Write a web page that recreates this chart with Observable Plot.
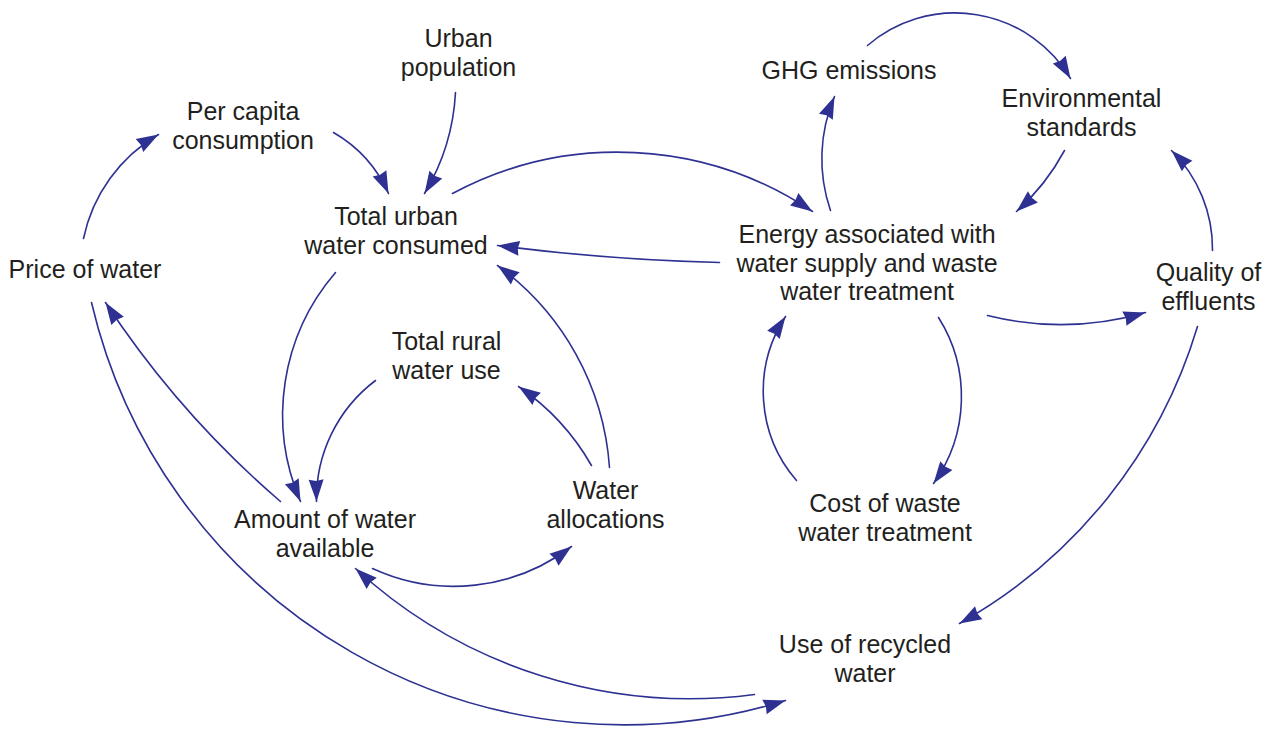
<!DOCTYPE html>
<html>
<head>
<meta charset="utf-8">
<script src="https://cdn.jsdelivr.net/npm/d3@7"></script>
<script src="https://cdn.jsdelivr.net/npm/@observablehq/plot@0.6"></script>
<style>
  html, body { margin: 0; padding: 0; background: #ffffff; }
  #chart svg { display: block; }
</style>
</head>
<body>
<div id="chart"></div>
<script>
// ---- Nodes (variables of the causal loop diagram) ----
const nodeLabels = [
  "Urban\npopulation",
  "Per capita\nconsumption",
  "Total urban\nwater consumed",
  "Price of water",
  "Total rural\nwater use",
  "Amount of water\navailable",
  "Water\nallocations",
  "GHG emissions",
  "Environmental\nstandards",
  "Energy associated with\nwater supply and waste\nwater treatment",
  "Quality of\neffluents",
  "Cost of waste\nwater treatment",
  "Use of recycled\nwater"
];
const nodeX = [458, 242.5, 395.5, 84.5, 446, 324.5, 605, 848.5, 1081, 866.5, 1208, 884.5, 864.5];
const nodeY = [52, 125, 230, 268, 355, 533, 504, 69, 112, 262, 286, 517, 658];

// ---- Causal links (tail point -> arrow tip, with bend angle in degrees) ----
const linkFrom = ["Price of water","Per capita","Urban population","Total urban","Energy","Total urban","Total rural","Amount","Price of water","Use of recycled","Amount","Water allocations","Water allocations","Energy","GHG emissions","Environmental standards","Quality of effluents","Energy","Energy","Cost of waste","Quality of effluents"];
const linkTo   = ["Per capita","Total urban","Total urban","Energy","Total urban","Amount","Amount","Price of water","Use of recycled","Amount","Water allocations","Total rural","Total urban","GHG emissions","Environmental standards","Energy","Environmental standards","Quality of effluents","Cost of waste","Energy","Use of recycled"];
const linkTailX = [83, 333, 455, 452, 719, 335, 375, 280, 91, 754, 372, 591, 609, 830, 867, 1064, 1212, 987, 938, 796, 1197];
const linkTailY = [238, 132, 92, 193, 262, 272, 380, 501, 302, 694, 568, 465, 467, 210, 45, 150, 250, 315, 317, 480, 326];
const linkTipX  = [158, 388, 424, 812, 497, 300, 316, 105, 785, 355, 571, 518, 497, 834, 1070, 1016, 1171, 1145, 933, 785, 959];
const linkTipY  = [134, 193, 193, 211, 245, 501, 501, 302, 700, 568, 546, 386, 265, 96, 78, 211, 150, 312, 483, 316, 623];
const linkBend  = [24, 18, 14, 31, 3, -32, -27, 8, -47, 25, -31, -13, -25, 21, 50, 10, -23, -15, 34, 37, 22];

const nodes = nodeLabels.map((label, i) => ({label, x: nodeX[i], y: nodeY[i]}));
const links = linkTailX.map((x1, i) => {
  const d = {from: linkFrom[i], to: linkTo[i], x1, y1: linkTailY[i], x2: linkTipX[i], y2: linkTipY[i], bend: linkBend[i]};
  // direction of the arc as it arrives at the tip (chord angle + bend), rotated so the symbol's tip leads
  d.angle = Math.atan2(d.y2 - d.y1, d.x2 - d.x1) * 180 / Math.PI + d.bend + 90;
  return d;
});

const BLUE = "#2e3192";
const INK = "#231f20";
const FONT = "'Liberation Sans', Arial, Helvetica, sans-serif";

// filled arrowhead, tip at the origin pointing "up"
const headSymbol = {
  draw(ctx) {
    ctx.moveTo(0, 0);
    ctx.lineTo(7.5, 22);
    ctx.lineTo(0, 20.5);
    ctx.lineTo(-7.5, 22);
    ctx.closePath();
  }
};

const chart = Plot.plot({
  width: 1266,
  height: 736,
  margin: 0,
  x: {domain: [0, 1266], range: [0, 1266], axis: null},
  y: {domain: [0, 736], range: [0, 736], axis: null},
  style: {background: "#ffffff", fontFamily: FONT, overflow: "visible"},
  marks: [
    ...links.map(d => Plot.arrow([d], {
      x1: "x1", y1: "y1", x2: "x2", y2: "y2",
      bend: d.bend, headLength: 0,
      stroke: BLUE, strokeWidth: 1.6
    })),
    Plot.dot(links, {x: "x2", y: "y2", rotate: "angle", symbol: headSymbol, fill: BLUE, stroke: "none"}),
    Plot.text(nodes, {
      x: "x", y: "y", text: "label",
      fontSize: 25, lineHeight: 1.14, fill: INK,
      fontFamily: FONT, textAnchor: "middle", lineAnchor: "middle"
    })
  ]
});
document.getElementById("chart").appendChild(chart);
</script>
</body>
</html>
